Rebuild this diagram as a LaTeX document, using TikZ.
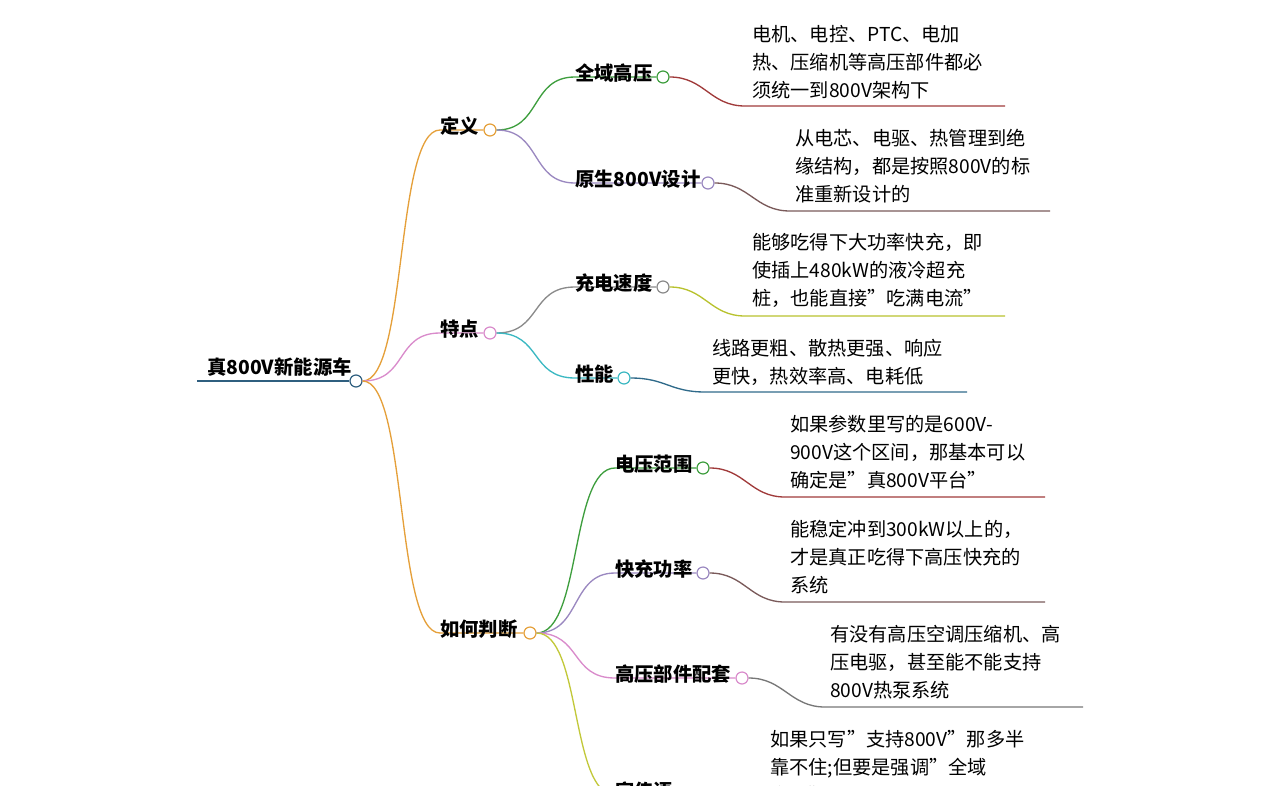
\documentclass[tikz,border=0pt]{standalone}
\usepackage{fontspec}
\setmainfont{Noto Sans CJK SC}
\definecolor{cRoot}{HTML}{2F5F7F}
\definecolor{cOr}{HTML}{E5A03A}
\definecolor{cPk}{HTML}{D98BCB}
\definecolor{cGr}{HTML}{3E9E3E}
\definecolor{cPu}{HTML}{9A88C0}
\definecolor{cGy}{HTML}{8A8A8A}
\definecolor{cCy}{HTML}{3BB8C2}
\definecolor{cYl}{HTML}{C2C83A}
\definecolor{cRd}{HTML}{A03A3A}
\definecolor{cBr}{HTML}{7A5A5A}
\definecolor{cYg}{HTML}{B8C22E}
\definecolor{cDb}{HTML}{2F6A8A}
\definecolor{cG2}{HTML}{777777}
\newcommand\qq{{\char"22}}
\newcommand\mybr[6]{%
  \node[dot=#4] (#5) at (#3) {};
  \draw[ln=#4] (#1.east) .. controls +(45,0) and +(-45,0) .. (#2) -- (#5.west);
  \node[lbl] at ([yshift=-4]#2) {#6};}
\newcommand\myleaf[6]{%
  \draw[ln=#4] (#1.east) .. controls +(35,0) and +(-35,0) .. (#2) -- (#3);
  \node[leaf] at (#5) {#6};}
\begin{document}
\begin{tikzpicture}[x=0.75pt,y=-0.75pt,
  lbl/.style={anchor=south west,inner sep=0pt,font=\fontsize{14.5}{16}\selectfont\bfseries},
  leaf/.style={anchor=north west,inner sep=0pt,align=left,font=\fontsize{14.4}{21}\selectfont},
  dot/.style={circle,draw=#1,fill=white,line width=0.9pt,minimum size=9pt,inner sep=0pt},
  ln/.style={draw=#1,line width=1pt}]
\useasboundingbox (0,0) rectangle (1280,785);
\clip (0,0) rectangle (1280,785);
% root
\node[dot=cRoot] (root) at (356,381) {};
\coordinate (r0) at (197,381);
\draw[ln=cRoot] (r0) -- (root.west);
\node[lbl] at (207,377) {真800V新能源车};
% level 1
\mybr{root}{440,130}{490,130}{cOr}{d1}{定义}
\mybr{root}{440,333}{490,333}{cPk}{d2}{特点}
\mybr{root}{440,633}{530,633}{cOr}{d3}{如何判断}
% level 2
\mybr{d1}{575,77}{663,77}{cGr}{e1}{全域高压}
\mybr{d1}{575,183}{708,183}{cPu}{e2}{原生800V设计}
\mybr{d2}{575,287}{663,287}{cGy}{e3}{充电速度}
\mybr{d2}{575,378}{624,378}{cCy}{e4}{性能}
\mybr{d3}{615,468}{703,468}{cGr}{e5}{电压范围}
\mybr{d3}{615,573}{703,573}{cPu}{e6}{快充功率}
\mybr{d3}{615,678}{742,678}{cPk}{e7}{高压部件配套}
\mybr{d3}{615,795}{700,795}{cYl}{e8}{宣传语}
% leaves
\myleaf{e1}{745,106}{1005,106}{cRd}{752,25}{电机、电控、PTC、电加\\热、压缩机等高压部件都必\\须统一到800V架构下}
\myleaf{e2}{790,211}{1050,211}{cBr}{795,129}{从电芯、电驱、热管理到绝\\缘结构，都是按照800V的标\\准重新设计的}
\myleaf{e3}{745,316}{1005,316}{cYg}{752,233}{能够吃得下大功率快充，即\\使插上480kW的液冷超充\\桩，也能直接\qq 吃满电流\qq}
\myleaf{e4}{705,392}{967,392}{cDb}{712,339}{线路更粗、散热更强、响应\\更快，热效率高、电耗低}
\myleaf{e5}{785,497}{1045,497}{cRd}{790,415}{如果参数里写的是600V-\\900V这个区间，那基本可以\\确定是\qq 真800V平台\qq}
\myleaf{e6}{785,602}{1045,602}{cBr}{790,520}{能稳定冲到300kW以上的，\\才是真正吃得下高压快充的\\系统}
\myleaf{e7}{825,707}{1083,707}{cG2}{830,625}{有没有高压空调压缩机、高\\压电驱，甚至能不能支持\\800V热泵系统}
\node[leaf] at (770,730) {如果只写\qq 支持800V\qq 那多半\\靠不住;但要是强调\qq 全域\\高压\qq};
\end{tikzpicture}
\end{document}
